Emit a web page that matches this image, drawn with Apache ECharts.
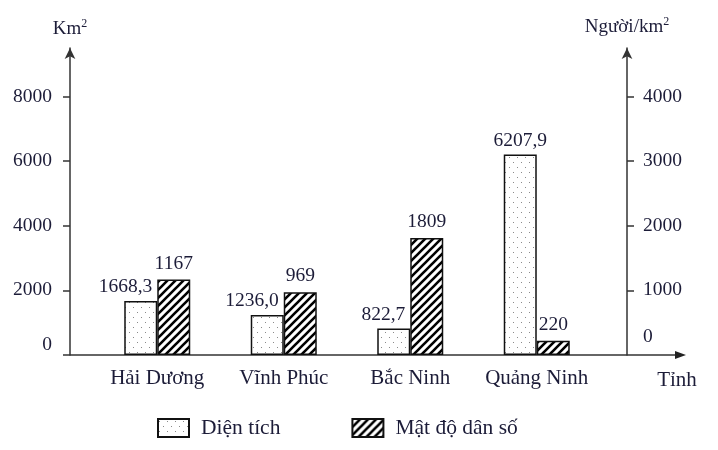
<!DOCTYPE html>
<html>
<head>
<meta charset="utf-8">
<style>
	html,body{margin:0;padding:0;background:#fff}
	#chart{width:718px;height:450px}
</style>
<script src="https://cdn.jsdelivr.net/npm/echarts@6/dist/echarts.min.js"></script>
</head>
<body>
	<div id="chart"></div>
	<script>
		var provinces = ['Hải Dương', 'Vĩnh Phúc', 'Bắc Ninh', 'Quảng Ninh'];
		var area = [1668.3, 1236.0, 822.7, 6207.9];
		var density = [1167, 969, 1809, 220];
		var areaLabels = ['1668,3', '1236,0', '822,7', '6207,9'];
		var leftTicks = [0, 2000, 4000, 6000, 8000];
		var rightTicks = [0, 1000, 2000, 3000, 4000];

		var ink = '#1c1c38';
		var font = 'Liberation Serif';
		var numSize = 19.5;

		// hoa van cham cho dien tich
		function dotPattern() {
			var c = document.createElement('canvas');
			c.width = 8; c.height = 10;
			var g = c.getContext('2d');
			g.fillStyle = '#fff';
			g.fillRect(0, 0, 8, 10);
			g.fillStyle = '#8a8a8a';
			g.fillRect(1, 2, 1, 1);
			g.fillRect(5, 7, 1, 1);
			return c;
		}
		// hoa van gach cheo cho mat do
		function hatchPattern() {
			var c = document.createElement('canvas');
			c.width = 8; c.height = 8;
			var g = c.getContext('2d');
			g.fillStyle = '#fff';
			g.fillRect(0, 0, 8, 8);
			g.strokeStyle = '#000';
			g.lineWidth = 2.6;
			g.beginPath();
			g.moveTo(-2, 10); g.lineTo(10, -2);
			g.moveTo(-2, 2); g.lineTo(2, -2);
			g.moveTo(6, 10); g.lineTo(10, 6);
			g.stroke();
			return c;
		}

		var gl = 94, gr = 118, gt = 48, gb = 95;
		var H = 450;

		var areaData = area.map(function (v, i) {
			var item = {value: v};
			// cot dien tich thap hon cot mat do -> nhan lech trai
			if (v / 2 < density[i]) {
				item.label = {align: 'right', position: ['85%', -4], verticalAlign: 'bottom'};
			}
			return item;
		});

		var supRich = {s: {fontFamily: font, fontSize: 12, color: ink, padding: [0, 0, 10, 0]}};

		var myChart = echarts.init(document.getElementById('chart'), null, {renderer: 'canvas'});
		var option = {
			animation: false,
			grid: {left: gl, right: gr, top: gt, bottom: gb},
			legend: {
				bottom: 6,
				left: 152,
				icon: 'rect',
				itemWidth: 31,
				itemHeight: 18,
				itemGap: 71,
				textStyle: {fontFamily: font, fontSize: 21.5, color: ink, padding: [0, 0, 0, 7]},
				data: ['Diện tích', 'Mật độ dân số']
			},
			xAxis: {
				type: 'category',
				data: provinces,
				axisLine: {show: false},
				axisTick: {show: false},
				axisLabel: {interval: 0, fontFamily: font, fontSize: 21, color: ink, margin: 13},
				name: 'Tỉnh',
				nameLocation: 'end',
				nameGap: 77,
				nameTextStyle: {fontFamily: font, fontSize: 21, color: ink, align: 'center', verticalAlign: 'top', padding: [15, 0, 0, 0]}
			},
			yAxis: [
				{
					type: 'value',
					position: 'left',
					offset: 24,
					min: 0,
					max: 9500,
					name: 'Km{s|2}',
					nameGap: 8,
					nameTextStyle: {fontFamily: font, fontSize: 19, color: ink, align: 'center', rich: supRich},
					splitLine: {show: false},
					axisLine: {show: true, symbol: ['none', 'arrow'], symbolSize: [8, 11], lineStyle: {color: '#333', width: 1.5}},
					axisTick: {show: true, length: 7, customValues: leftTicks.slice(1), lineStyle: {color: '#333', width: 1.5}},
					axisLabel: {
						customValues: leftTicks,
						margin: 18,
						fontFamily: font, fontSize: numSize, color: ink,
						formatter: function (v) { return v === 0 ? '{z|0}' : String(v); },
						rich: {z: {fontFamily: font, fontSize: numSize, color: ink, padding: [0, 0, 20, 0]}}
					}
				},
				{
					type: 'value',
					position: 'right',
					offset: 27,
					min: 0,
					max: 4750,
					name: 'Người/km{s|2}',
					nameGap: 10,
					nameTextStyle: {fontFamily: font, fontSize: 19, color: ink, align: 'center', rich: supRich},
					splitLine: {show: false},
					axisLine: {show: true, symbol: ['none', 'arrow'], symbolSize: [8, 11], lineStyle: {color: '#333', width: 1.5}},
					axisTick: {show: true, length: 7, customValues: rightTicks.slice(1), lineStyle: {color: '#333', width: 1.5}},
					axisLabel: {
						customValues: rightTicks,
						margin: 16,
						fontFamily: font, fontSize: numSize, color: ink,
						formatter: function (v) { return v === 0 ? '{z|0}' : String(v); },
						rich: {z: {fontFamily: font, fontSize: numSize, color: ink, padding: [0, 0, 36, 0]}}
					}
				}
			],
			series: [
				{
					name: 'Diện tích',
					type: 'bar',
					yAxisIndex: 0,
					barWidth: 33,
					barGap: '0%',
					data: areaData,
					itemStyle: {color: {image: dotPattern(), repeat: 'repeat'}, borderColor: '#111', borderWidth: 1.5},
					label: {
						show: true,
						position: 'top',
						distance: 4,
						fontFamily: font, fontSize: numSize, color: ink,
						formatter: function (p) { return areaLabels[p.dataIndex]; }
					}
				},
				{
					name: 'Mật độ dân số',
					type: 'bar',
					yAxisIndex: 1,
					barWidth: 33,
					barGap: '0%',
					data: density,
					itemStyle: {color: {image: hatchPattern(), repeat: 'repeat'}, borderColor: '#111', borderWidth: 1.5},
					label: {
						show: true,
						position: 'top',
						distance: 6,
						fontFamily: font, fontSize: numSize, color: ink
					}
				}
			],
			graphic: [
				// truc hoanh co mui ten
				{type: 'line', shape: {x1: 63, y1: H - gb, x2: 678, y2: H - gb}, style: {stroke: '#333', lineWidth: 1.5}},
				{type: 'polygon', shape: {points: [[686, H - gb], [675, H - gb - 4], [675, H - gb + 4]]}, style: {fill: '#222'}}
			]
		};
		myChart.setOption(option);
	</script>
</body>
</html>
